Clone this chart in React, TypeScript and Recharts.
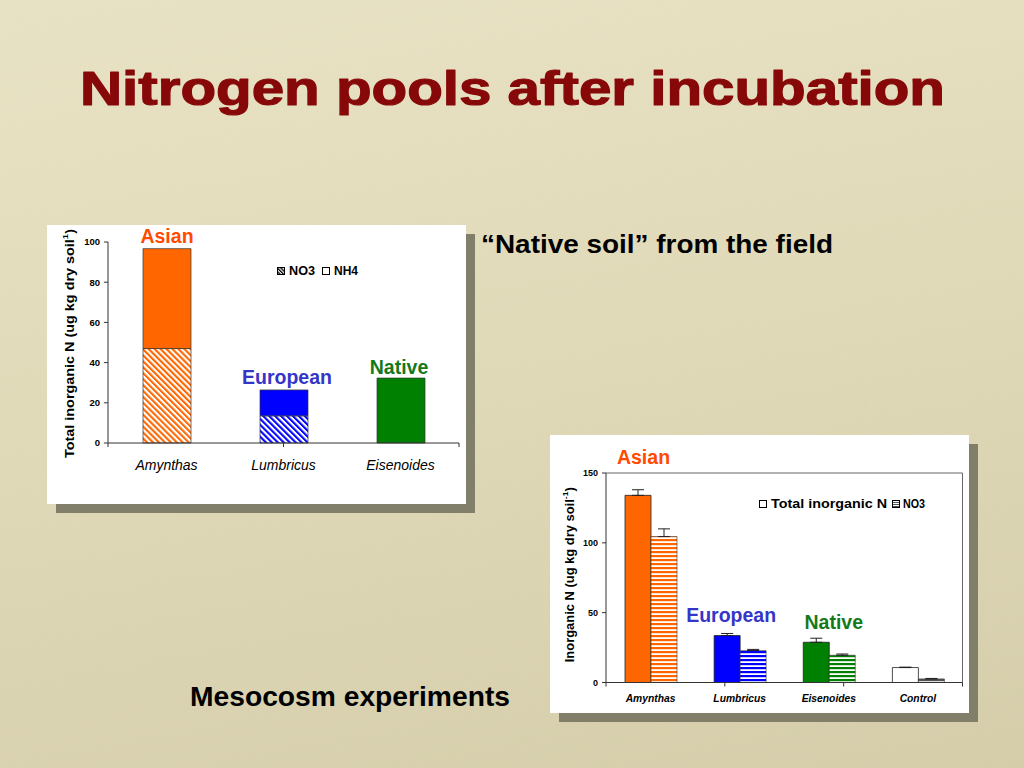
import React from 'react';
import { BarChart, Bar, XAxis, YAxis, Cell, LabelList, Legend, ErrorBar } from 'recharts';

// ---------- data ----------
const leftCategories = ['Amynthas', 'Lumbricus', 'Eisenoides'];
const leftNO3 = [47, 13.5, 0];
const leftNH4 = [49.7, 12.9, 32.3];
const leftGroupLabels = ['Asian', 'European', 'Native'];
const leftYTicks = [0, 20, 40, 60, 80, 100];

const rightCategories = ['Amynthas', 'Lumbricus', 'Eisenoides', 'Control'];
const rightTotal = [134, 33.6, 28.8, 10.7];
const rightTotalErr = [4, 1.5, 2.9, 0.3];
const rightNO3 = [104.5, 22.9, 19.5, 2.6];
const rightNO3Err = [5.5, 0.8, 0.9, 0.3];
const rightGroupLabels = ['Asian', 'European', 'Native', ''];
const rightYTicks = [0, 50, 100, 150];

// ---------- styles ----------
const FONT = '"Liberation Sans", Arial, Helvetica, sans-serif';
const solidColors = ['#FF6600', '#0000FF', '#008000', '#FFFFFF'];
const stripeColors = ['#FF6600', '#0000FF', '#008000', '#555555'];
const labelColor: Record<string, string> = { Asian: '#FF4A00', European: '#3535C8', Native: '#15791A' };
const leftLabelOffset: Record<string, { dx: number; dy: number }> = {
  Asian: { dx: 0, dy: -6 },
  European: { dx: 3, dy: -6 },
  Native: { dx: -2, dy: -4 },
};
const rightLabelOffset: Record<string, { dx: number; dy: number }> = {
  Asian: { dx: 5.5, dy: -31 },
  European: { dx: 4, dy: -14 },
  Native: { dx: 17.5, dy: -13 },
};

const leftData = leftCategories.map((name, i) => ({
  name,
  no3: leftNO3[i],
  nh4: leftNH4[i],
  group: leftGroupLabels[i],
}));

const rightData = rightCategories.map((name, i) => ({
  name,
  total: rightTotal[i],
  totalErr: [0, rightTotalErr[i]],
  no3: rightNO3[i],
  no3Err: [0, rightNO3Err[i]],
  group: rightGroupLabels[i],
}));

const getBox = (p: any) => {
  const vb = p.viewBox || {};
  return {
    x: p.x ?? vb.x ?? 0,
    y: p.y ?? vb.y ?? 0,
    width: p.width ?? vb.width ?? 0,
    height: p.height ?? vb.height ?? 0,
  };
};

const makeGroupLabel = (offsets: Record<string, { dx: number; dy: number }>) => (p: any) => {
  const t = String(p.value ?? '');
  if (!t || !offsets[t]) return null;
  const b = getBox(p);
  const o = offsets[t];
  return (
    <text
      x={b.x + b.width / 2 + o.dx}
      y={b.y + o.dy}
      textAnchor="middle"
      fill={labelColor[t]}
      fontSize={19.5}
      fontWeight="bold"
      fontFamily={FONT}
    >
      {t}
    </text>
  );
};

const makeCatTick = (dy: number, size: number, bold: boolean) => (p: any) => (
  <text
    x={p.x}
    y={p.y + dy}
    textAnchor="middle"
    fontSize={size}
    fontStyle="italic"
    fontWeight={bold ? 'bold' : 'normal'}
    fontFamily={FONT}
    fill="#000"
  >
    {p.payload?.value}
  </text>
);

const makeYLabel = (dx: number, dy: number, length: number, main: string, sup: string) => (p: any) => {
  const vb = p.viewBox || {};
  const cx = (vb.x ?? 0) + dx;
  const cy = (vb.y ?? 0) + (vb.height ?? 0) / 2 + dy;
  return (
    <text
      x={cx}
      y={cy}
      transform={`rotate(-90, ${cx}, ${cy})`}
      textAnchor="middle"
      dominantBaseline="central"
      fontSize={12}
      fontWeight="bold"
      fontFamily={FONT}
      fill="#000"
      textLength={length}
      lengthAdjust="spacingAndGlyphs"
    >
      {main}
      <tspan fontSize={8} dy={-5}>{sup}</tspan>
      <tspan dy={5}>)</tspan>
    </text>
  );
};

const LeftLegend = () => (
  <svg width={92} height={16} style={{ display: 'block' }}>
    <defs>
      <pattern id="legDiag" patternUnits="userSpaceOnUse" width="2.5" height="2.5" patternTransform="rotate(-45)">
        <rect width="2.5" height="2.5" fill="#fff" />
        <rect width="1.3" height="2.5" fill="#000" />
      </pattern>
    </defs>
    <rect x={2.5} y={4.5} width={7} height={7} fill="url(#legDiag)" stroke="#000" strokeWidth={1} />
    <text x={14} y={12.4} fontSize={12} fontWeight="bold" fontFamily={FONT} textLength={26} lengthAdjust="spacingAndGlyphs">NO3</text>
    <rect x={47.5} y={4.5} width={7} height={7} fill="#fff" stroke="#000" strokeWidth={1} />
    <text x={59} y={12.4} fontSize={12} fontWeight="bold" fontFamily={FONT} textLength={24} lengthAdjust="spacingAndGlyphs">NH4</text>
  </svg>
);

const RightLegend = () => (
  <svg width={180} height={16} style={{ display: 'block' }}>
    <defs>
      <pattern id="legHz" patternUnits="userSpaceOnUse" width="2" height="2">
        <rect width="2" height="2" fill="#fff" />
        <rect width="2" height="1" fill="#555" />
      </pattern>
    </defs>
    <rect x={4.5} y={4.5} width={7} height={7} fill="#fff" stroke="#000" strokeWidth={1} />
    <text x={16} y={12.4} fontSize={12} fontWeight="bold" fontFamily={FONT} textLength={116} lengthAdjust="spacingAndGlyphs">Total inorganic N</text>
    <rect x={137.5} y={4.5} width={7} height={7} fill="url(#legHz)" stroke="#000" strokeWidth={1} />
    <text x={148} y={12.4} fontSize={12} fontWeight="bold" fontFamily={FONT} textLength={22} lengthAdjust="spacingAndGlyphs">NO3</text>
  </svg>
);

const axisStroke = '#333';

function LeftChart() {
  return (
    <BarChart width={419} height={279} data={leftData} margin={{ top: 17, right: 7, bottom: 30, left: 31 }}>
      <defs>
        {stripeColors.map((c, i) => (
          <pattern key={i} id={`diagL${i}`} patternUnits="userSpaceOnUse" width="4.2" height="4.2" patternTransform="rotate(-45)">
            <rect width="4.2" height="4.2" fill="#fff" />
            <rect width="2.1" height="4.2" fill={c} />
          </pattern>
        ))}
      </defs>
      <XAxis
        xAxisId="cat"
        dataKey="name"
        axisLine={false}
        tickLine={false}
        tickSize={0}
        tickMargin={0}
        height={30}
        interval={0}
        tick={makeCatTick(26, 14, false)}
      />
      <XAxis
        xAxisId="aGrid"
        type="number"
        domain={[0, leftCategories.length]}
        ticks={leftCategories.map((_, i) => i).concat([leftCategories.length])}
        height={1}
        tickFormatter={() => ''}
        tickSize={4}
        tickLine={{ stroke: axisStroke }}
        axisLine={{ stroke: axisStroke }}
        allowDataOverflow
      />
      <YAxis
        yAxisId="val"
        width={30}
        domain={[0, 100]}
        ticks={leftYTicks}
        tickSize={4}
        tickMargin={4}
        tickLine={{ stroke: axisStroke }}
        axisLine={{ stroke: axisStroke }}
        tick={{ fontSize: 9.5, fontWeight: 'bold', fill: '#000', fontFamily: FONT }}
        label={{ content: makeYLabel(-8, 1, 229, 'Total inorganic N (ug kg dry soil', '1') }}
      />
      <Legend
        content={<LeftLegend />}
        layout="horizontal"
        verticalAlign="middle"
        align="center"
        wrapperStyle={{ position: 'absolute', left: 228, top: 38, width: 92, height: 16 }}
      />
      <Bar xAxisId="cat" yAxisId="val" dataKey="no3" stackId="a" barSize={48} isAnimationActive={false} stroke="#333" strokeWidth={0.7}>
        {leftData.map((_, i) => (
          <Cell key={i} fill={`url(#diagL${i})`} />
        ))}
      </Bar>
      <Bar xAxisId="cat" yAxisId="val" dataKey="nh4" stackId="a" barSize={48} isAnimationActive={false} stroke="#333" strokeWidth={0.7}>
        {leftData.map((_, i) => (
          <Cell key={i} fill={solidColors[i]} />
        ))}
        <LabelList dataKey="group" content={makeGroupLabel(leftLabelOffset)} />
      </Bar>
    </BarChart>
  );
}

function RightChart() {
  return (
    <BarChart width={419} height={278} data={rightData} barGap={0} margin={{ top: 37, right: 5.5, bottom: 7.5, left: 26 }}>
      <defs>
        {stripeColors.map((c, i) => (
          <pattern key={i} id={`hzR${i}`} patternUnits="userSpaceOnUse" width="4" height="4">
            <rect width="4" height="4" fill="#fff" />
            <rect width="4" height="2.2" fill={c} />
          </pattern>
        ))}
      </defs>
      <XAxis
        xAxisId="top"
        orientation="top"
        type="number"
        domain={[0, 1]}
        height={1}
        tick={false}
        tickLine={false}
        axisLine={{ stroke: '#666' }}
      />
      <YAxis
        yAxisId="frame"
        orientation="right"
        type="number"
        domain={[0, 1]}
        width={1}
        tick={false}
        tickLine={false}
        axisLine={{ stroke: '#666' }}
      />
      <XAxis
        xAxisId="cat"
        dataKey="name"
        axisLine={false}
        tickLine={false}
        tickSize={0}
        tickMargin={0}
        height={22}
        interval={0}
        tick={makeCatTick(18, 10.3, true)}
      />
      <XAxis
        xAxisId="aGrid"
        type="number"
        domain={[0, rightCategories.length]}
        ticks={rightCategories.map((_, i) => i).concat([rightCategories.length])}
        height={1}
        tickFormatter={() => ''}
        tickSize={4}
        tickLine={{ stroke: axisStroke }}
        axisLine={{ stroke: axisStroke }}
        allowDataOverflow
      />
      <YAxis
        yAxisId="val"
        width={30}
        domain={[0, 150]}
        ticks={rightYTicks}
        tickSize={4}
        tickMargin={4}
        tickLine={{ stroke: axisStroke }}
        axisLine={{ stroke: axisStroke }}
        tick={{ fontSize: 9, fontWeight: 'bold', fill: '#000', fontFamily: FONT }}
        label={{ content: makeYLabel(-6, -3, 175, 'Inorganic N (ug kg dry soil', '-1') }}
      />
      <Legend
        content={<RightLegend />}
        layout="horizontal"
        verticalAlign="middle"
        align="center"
        wrapperStyle={{ position: 'absolute', left: 205, top: 61, width: 180, height: 16 }}
      />
      <Bar xAxisId="cat" yAxisId="val" dataKey="total" barSize={26} isAnimationActive={false} stroke="#222" strokeWidth={0.8}>
        {rightData.map((_, i) => (
          <Cell key={i} fill={solidColors[i]} />
        ))}
        <ErrorBar dataKey="totalErr" width={6} stroke="#222" strokeWidth={1} direction="y" />
        <LabelList dataKey="group" content={makeGroupLabel(rightLabelOffset)} />
      </Bar>
      <Bar xAxisId="cat" yAxisId="val" dataKey="no3" barSize={26} isAnimationActive={false} stroke="#333" strokeWidth={0.6}>
        {rightData.map((_, i) => (
          <Cell key={i} fill={`url(#hzR${i})`} />
        ))}
        <ErrorBar dataKey="no3Err" width={6} stroke="#222" strokeWidth={1} direction="y" />
      </Bar>
    </BarChart>
  );
}

export default function App() {
  return (
    <div
      style={{
        position: 'absolute',
        left: 0,
        top: 0,
        width: 1024,
        height: 768,
        overflow: 'hidden',
        background: 'linear-gradient(170deg, #EAE4C5 0%, #E2DBB9 45%, #D6CEAA 100%)',
        fontFamily: FONT,
      }}
    >
      <svg width={1024} height={768} style={{ position: 'absolute', left: 0, top: 0 }}>
        <defs>
          <filter id="grain">
            <feTurbulence type="fractalNoise" baseFrequency="0.8" numOctaves="2" stitchTiles="stitch" />
            <feColorMatrix type="saturate" values="0" />
          </filter>
        </defs>
        <rect width={1024} height={768} filter="url(#grain)" opacity={0.07} />
        <text
          x={80}
          y={105}
          fontSize={48}
          fontWeight="bold"
          fontFamily={FONT}
          fill="#870808"
          stroke="#870808"
          strokeWidth={1.2}
          strokeLinejoin="round"
          textLength={865}
          lengthAdjust="spacingAndGlyphs"
        >
          Nitrogen pools after incubation
        </text>
        <text
          x={481}
          y={253}
          fontSize={25}
          fontWeight="bold"
          fontFamily={FONT}
          fill="#000"
          textLength={352}
          lengthAdjust="spacingAndGlyphs"
        >
          “Native soil” from the field
        </text>
        <text
          x={190}
          y={705.5}
          fontSize={28}
          fontWeight="bold"
          fontFamily={FONT}
          fill="#000"
          textLength={320}
          lengthAdjust="spacingAndGlyphs"
        >
          Mesocosm experiments
        </text>
      </svg>
      <div
        style={{
          position: 'absolute',
          left: 47,
          top: 225,
          width: 419,
          height: 279,
          background: '#fff',
          boxShadow: '9px 9px 0 #817E6A',
        }}
      >
        <LeftChart />
      </div>
      <div
        style={{
          position: 'absolute',
          left: 550,
          top: 435,
          width: 419,
          height: 278,
          background: '#fff',
          boxShadow: '9px 9px 0 #817E6A',
        }}
      >
        <RightChart />
      </div>
    </div>
  );
}
